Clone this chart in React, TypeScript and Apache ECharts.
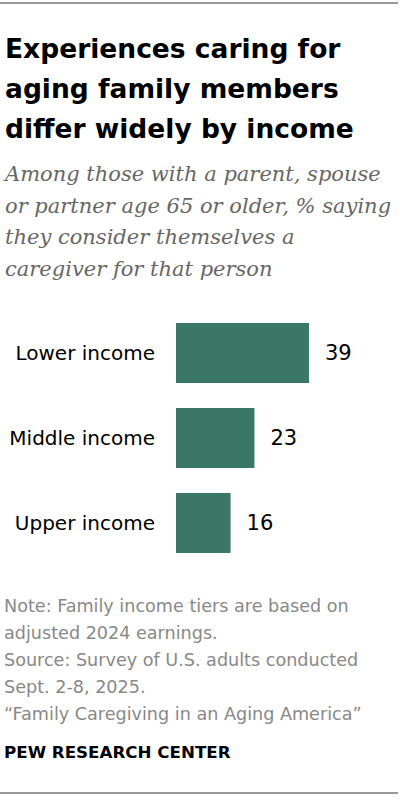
import React, { useEffect, useRef } from "react";
import * as echarts from "echarts";

const categories = ["Lower income", "Middle income", "Upper income"];
const values = [39, 23, 16];

const titleLines = ["Experiences caring for", "aging family members", "differ widely by income"];
const subtitleLines = [
  "Among those with a parent, spouse",
  "or partner age 65 or older, % saying",
  "they consider themselves a",
  "caregiver for that person",
];
const noteLines = [
  "Note: Family income tiers are based on",
  "adjusted 2024 earnings.",
  "Source: Survey of U.S. adults conducted",
  "Sept. 2-8, 2025.",
  "\u201cFamily Caregiving in an Aging America\u201d",
];
const brand = "PEW RESEARCH CENTER";

const SANS = "'DejaVu Sans', Verdana, sans-serif";

export default function App() {
  const ref = useRef<HTMLDivElement>(null);
  useEffect(() => {
    document.body.style.margin = "0";
    const chart = echarts.init(ref.current!, null, { renderer: "svg" });
    const graphics: any[] = [
      { type: "line", shape: { x1: 0, y1: 3, x2: 398, y2: 3 }, style: { stroke: "#777", lineWidth: 1.5 } },
      { type: "line", shape: { x1: 0, y1: 793, x2: 398, y2: 793 }, style: { stroke: "#777", lineWidth: 1.5 } },
    ];
    titleLines.forEach((t, i) => {
      graphics.push({
        type: "text",
        x: 5,
        y: 48 + i * 40,
        style: { text: t, font: `bold 26.5px ${SANS}`, fill: "#000", verticalAlign: "middle" },
      });
    });
    subtitleLines.forEach((t, i) => {
      graphics.push({
        type: "text",
        x: 5,
        y: 174 + i * 31.5,
        style: { text: t, font: "italic 21px 'DejaVu Serif', Georgia, serif", fill: "#666", verticalAlign: "middle" },
      });
    });
    noteLines.forEach((t, i) => {
      graphics.push({
        type: "text",
        x: 4,
        y: 606 + i * 27,
        style: { text: t, font: `17.6px ${SANS}`, fill: "#888", verticalAlign: "middle" },
      });
    });
    graphics.push({
      type: "text",
      x: 4,
      y: 752,
      style: { text: brand, font: `bold 16.7px ${SANS}`, fill: "#000", verticalAlign: "middle" },
    });

    chart.setOption({
      animation: false,
      grid: { left: 176, top: 310.5, width: 200, height: 255, containLabel: false },
      xAxis: { type: "value", min: 0, max: 58.65, show: false },
      yAxis: {
        type: "category",
        data: categories,
        inverse: true,
        axisLine: { show: false },
        axisTick: { show: false },
        axisLabel: { margin: 21, color: "#000", fontSize: 20, fontFamily: SANS },
      },
      series: [
        {
          type: "bar",
          data: values,
          barWidth: 60,
          itemStyle: { color: "#3b7767" },
          label: {
            show: true,
            position: "right",
            distance: 16,
            color: "#000",
            fontSize: 21,
            fontFamily: SANS,
          },
        },
      ],
      graphic: graphics,
    });
    return () => chart.dispose();
  }, []);
  return <div ref={ref} style={{ width: 400, height: 800 }} />;
}
